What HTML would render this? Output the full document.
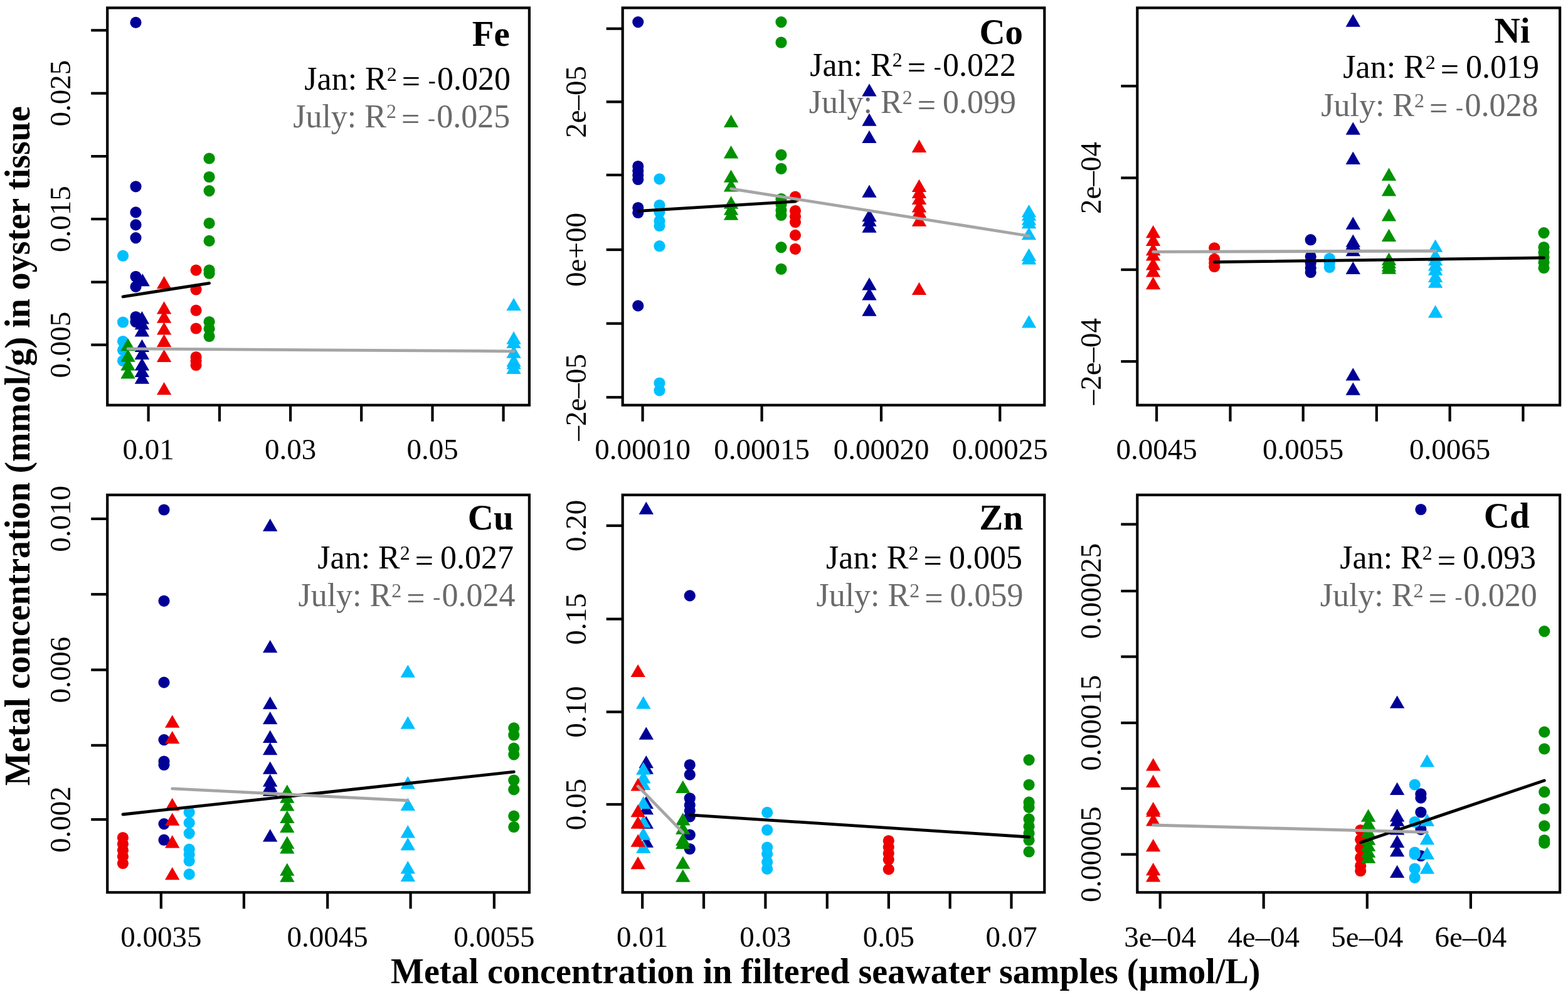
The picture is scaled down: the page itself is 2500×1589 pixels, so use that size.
<!DOCTYPE html>
<html><head><meta charset="utf-8"><style>
html,body{margin:0;padding:0;background:#fff;}
svg{display:block;}
.t{font-family:"Liberation Serif",serif;font-size:47px;}
.el{font-family:"Liberation Serif",serif;font-size:57px;font-weight:bold;}
.r{font-family:"Liberation Serif",serif;font-size:52px;}
.ttl{font-family:"Liberation Serif",serif;font-size:56px;font-weight:bold;}
</style></head><body>
<svg width="2500" height="1589" viewBox="0 0 2500 1589">
<rect width="2500" height="1589" fill="#fff"/>
<text x="812.8" y="72.8" text-anchor="end" class="el">Fe</text>
<text x="814.1" y="142.9" text-anchor="end" class="r" fill="#000">Jan: R<tspan dy="-14.3" font-size="32">2</tspan><tspan dy="18.8" dx="8">=</tspan><tspan dx="3.7" font-size="36" dy="-7.2"> -</tspan><tspan dy="2.7" dx="2.3">0.020</tspan></text>
<text x="813.3" y="202.7" text-anchor="end" class="r" fill="#6A6A6A">July: R<tspan dy="-14.3" font-size="32">2</tspan><tspan dy="18.8" dx="8">=</tspan><tspan dx="3.7" font-size="36" dy="-7.2"> -</tspan><tspan dy="2.7" dx="2.3">0.025</tspan></text>
<circle cx="216.5" cy="35.9" r="9.1" fill="#000096"/>
<circle cx="216.5" cy="297.3" r="9.1" fill="#000096"/>
<circle cx="216.5" cy="338.4" r="9.1" fill="#000096"/>
<circle cx="216.5" cy="358.4" r="9.1" fill="#000096"/>
<circle cx="216.5" cy="379.1" r="9.1" fill="#000096"/>
<circle cx="216.5" cy="440.8" r="9.1" fill="#000096"/>
<circle cx="216.5" cy="456.9" r="9.1" fill="#000096"/>
<circle cx="216.5" cy="505.0" r="9.1" fill="#000096"/>
<circle cx="216.5" cy="513.0" r="9.1" fill="#000096"/>
<circle cx="196.0" cy="407.7" r="9.1" fill="#00BFFF"/>
<circle cx="196.0" cy="513.5" r="9.1" fill="#00BFFF"/>
<circle cx="196.0" cy="544.0" r="9.1" fill="#00BFFF"/>
<circle cx="196.0" cy="558.0" r="9.1" fill="#00BFFF"/>
<circle cx="196.0" cy="575.0" r="9.1" fill="#00BFFF"/>
<circle cx="312.6" cy="430.6" r="9.1" fill="#EE0000"/>
<circle cx="312.6" cy="461.5" r="9.1" fill="#EE0000"/>
<circle cx="312.6" cy="494.7" r="9.1" fill="#EE0000"/>
<circle cx="312.6" cy="523.5" r="9.1" fill="#EE0000"/>
<circle cx="312.6" cy="569.0" r="9.1" fill="#EE0000"/>
<circle cx="312.6" cy="575.0" r="9.1" fill="#EE0000"/>
<circle cx="312.6" cy="582.0" r="9.1" fill="#EE0000"/>
<circle cx="333.6" cy="252.5" r="9.1" fill="#009100"/>
<circle cx="333.6" cy="282.0" r="9.1" fill="#009100"/>
<circle cx="333.6" cy="304.1" r="9.1" fill="#009100"/>
<circle cx="333.6" cy="355.9" r="9.1" fill="#009100"/>
<circle cx="333.6" cy="383.9" r="9.1" fill="#009100"/>
<circle cx="333.6" cy="430.6" r="9.1" fill="#009100"/>
<circle cx="333.6" cy="435.7" r="9.1" fill="#009100"/>
<circle cx="333.6" cy="513.0" r="9.1" fill="#009100"/>
<circle cx="333.6" cy="524.0" r="9.1" fill="#009100"/>
<circle cx="333.6" cy="536.0" r="9.1" fill="#009100"/>
<path d="M227.2 435.9L238.9 456.2L215.5 456.2Z" fill="#000096"/>
<path d="M226.4 496.1L238.1 516.4L214.7 516.4Z" fill="#000096"/>
<path d="M226.4 504.9L238.1 525.2L214.7 525.2Z" fill="#000096"/>
<path d="M226.4 516.1L238.1 536.4L214.7 536.4Z" fill="#000096"/>
<path d="M226.4 540.8L238.1 561.1L214.7 561.1Z" fill="#000096"/>
<path d="M226.4 552.6L238.1 572.9L214.7 572.9Z" fill="#000096"/>
<path d="M226.4 570.2L238.1 590.5L214.7 590.5Z" fill="#000096"/>
<path d="M226.4 580.8L238.1 601.1L214.7 601.1Z" fill="#000096"/>
<path d="M226.4 591.4L238.1 611.7L214.7 611.7Z" fill="#000096"/>
<path d="M819.1 474.7L830.8 495.0L807.4 495.0Z" fill="#00BFFF"/>
<path d="M819.1 528.1L830.8 548.4L807.4 548.4Z" fill="#00BFFF"/>
<path d="M819.1 534.8L830.8 555.1L807.4 555.1Z" fill="#00BFFF"/>
<path d="M819.1 550.5L830.8 570.8L807.4 570.8Z" fill="#00BFFF"/>
<path d="M819.1 564.1L830.8 584.4L807.4 584.4Z" fill="#00BFFF"/>
<path d="M819.1 568.2L830.8 588.5L807.4 588.5Z" fill="#00BFFF"/>
<path d="M819.1 575.6L830.8 595.9L807.4 595.9Z" fill="#00BFFF"/>
<path d="M261.6 440.0L273.3 460.3L249.9 460.3Z" fill="#EE0000"/>
<path d="M261.6 480.3L273.3 500.6L249.9 500.6Z" fill="#EE0000"/>
<path d="M261.6 494.4L273.3 514.7L249.9 514.7Z" fill="#EE0000"/>
<path d="M261.6 513.2L273.3 533.5L249.9 533.5Z" fill="#EE0000"/>
<path d="M261.6 532.6L273.3 552.9L249.9 552.9Z" fill="#EE0000"/>
<path d="M261.6 556.7L273.3 577.0L249.9 577.0Z" fill="#EE0000"/>
<path d="M261.6 609.0L273.3 629.3L249.9 629.3Z" fill="#EE0000"/>
<path d="M204.0 539.0L215.7 559.3L192.3 559.3Z" fill="#009100"/>
<path d="M204.0 556.5L215.7 576.8L192.3 576.8Z" fill="#009100"/>
<path d="M204.0 570.2L215.7 590.5L192.3 590.5Z" fill="#009100"/>
<path d="M204.0 583.1L215.7 603.4L192.3 603.4Z" fill="#009100"/>
<line x1="196.0" y1="472.9" x2="333.6" y2="451.3" stroke="#000" stroke-width="4.8" stroke-linecap="round"/>
<line x1="204.0" y1="555.8" x2="819.1" y2="559.8" stroke="#A5A5A5" stroke-width="4.8" stroke-linecap="round"/>
<rect x="171.2" y="12.5" width="672.7" height="633.2" fill="none" stroke="#000" stroke-width="4.2"/>
<line x1="236.6" y1="645.7" x2="236.6" y2="671.7" stroke="#000" stroke-width="4.2"/>
<line x1="350.0" y1="645.7" x2="350.0" y2="671.7" stroke="#000" stroke-width="4.2"/>
<line x1="463.1" y1="645.7" x2="463.1" y2="671.7" stroke="#000" stroke-width="4.2"/>
<line x1="576.2" y1="645.7" x2="576.2" y2="671.7" stroke="#000" stroke-width="4.2"/>
<line x1="689.5" y1="645.7" x2="689.5" y2="671.7" stroke="#000" stroke-width="4.2"/>
<line x1="802.6" y1="645.7" x2="802.6" y2="671.7" stroke="#000" stroke-width="4.2"/>
<text x="236.6" y="732.1" text-anchor="middle" class="t">0.01</text>
<text x="463.1" y="732.1" text-anchor="middle" class="t">0.03</text>
<text x="689.5" y="732.1" text-anchor="middle" class="t">0.05</text>
<line x1="145.2" y1="48.3" x2="171.2" y2="48.3" stroke="#000" stroke-width="4.2"/>
<line x1="145.2" y1="148.7" x2="171.2" y2="148.7" stroke="#000" stroke-width="4.2"/>
<line x1="145.2" y1="249.1" x2="171.2" y2="249.1" stroke="#000" stroke-width="4.2"/>
<line x1="145.2" y1="349.1" x2="171.2" y2="349.1" stroke="#000" stroke-width="4.2"/>
<line x1="145.2" y1="449.6" x2="171.2" y2="449.6" stroke="#000" stroke-width="4.2"/>
<line x1="145.2" y1="549.6" x2="171.2" y2="549.6" stroke="#000" stroke-width="4.2"/>
<text transform="translate(112.4,148.7) rotate(-90)" text-anchor="middle" class="t">0.025</text>
<text transform="translate(112.4,349.1) rotate(-90)" text-anchor="middle" class="t">0.015</text>
<text transform="translate(112.4,549.6) rotate(-90)" text-anchor="middle" class="t">0.005</text>
<text x="1631.1" y="69.8" text-anchor="end" class="el">Co</text>
<text x="1620.0" y="120.5" text-anchor="end" class="r" fill="#000">Jan: R<tspan dy="-14.3" font-size="32">2</tspan><tspan dy="18.8" dx="8">=</tspan><tspan dx="3.7" font-size="36" dy="-7.2"> -</tspan><tspan dy="2.7" dx="2.3">0.022</tspan></text>
<text x="1620.0" y="180.3" text-anchor="end" class="r" fill="#6A6A6A">July: R<tspan dy="-14.3" font-size="32">2</tspan><tspan dy="18.8" dx="8">=</tspan><tspan dx="-2" dy="-4.5"> 0.099</tspan></text>
<circle cx="1017.3" cy="35.1" r="9.1" fill="#000096"/>
<circle cx="1017.3" cy="265.0" r="9.1" fill="#000096"/>
<circle cx="1017.3" cy="272.0" r="9.1" fill="#000096"/>
<circle cx="1017.3" cy="279.0" r="9.1" fill="#000096"/>
<circle cx="1017.3" cy="286.0" r="9.1" fill="#000096"/>
<circle cx="1017.3" cy="331.0" r="9.1" fill="#000096"/>
<circle cx="1017.3" cy="339.0" r="9.1" fill="#000096"/>
<circle cx="1017.3" cy="487.4" r="9.1" fill="#000096"/>
<circle cx="1051.5" cy="285.3" r="9.1" fill="#00BFFF"/>
<circle cx="1051.5" cy="327.0" r="9.1" fill="#00BFFF"/>
<circle cx="1051.5" cy="338.0" r="9.1" fill="#00BFFF"/>
<circle cx="1051.5" cy="352.0" r="9.1" fill="#00BFFF"/>
<circle cx="1051.5" cy="360.0" r="9.1" fill="#00BFFF"/>
<circle cx="1051.5" cy="392.2" r="9.1" fill="#00BFFF"/>
<circle cx="1051.5" cy="610.5" r="9.1" fill="#00BFFF"/>
<circle cx="1051.5" cy="622.3" r="9.1" fill="#00BFFF"/>
<circle cx="1268.0" cy="313.6" r="9.1" fill="#EE0000"/>
<circle cx="1268.0" cy="336.0" r="9.1" fill="#EE0000"/>
<circle cx="1268.0" cy="345.0" r="9.1" fill="#EE0000"/>
<circle cx="1268.0" cy="354.0" r="9.1" fill="#EE0000"/>
<circle cx="1268.0" cy="374.9" r="9.1" fill="#EE0000"/>
<circle cx="1268.0" cy="396.8" r="9.1" fill="#EE0000"/>
<circle cx="1245.5" cy="35.1" r="9.1" fill="#009100"/>
<circle cx="1245.5" cy="67.7" r="9.1" fill="#009100"/>
<circle cx="1245.5" cy="246.9" r="9.1" fill="#009100"/>
<circle cx="1245.5" cy="268.8" r="9.1" fill="#009100"/>
<circle cx="1245.5" cy="317.0" r="9.1" fill="#009100"/>
<circle cx="1245.5" cy="326.0" r="9.1" fill="#009100"/>
<circle cx="1245.5" cy="335.0" r="9.1" fill="#009100"/>
<circle cx="1245.5" cy="343.0" r="9.1" fill="#009100"/>
<circle cx="1245.5" cy="394.1" r="9.1" fill="#009100"/>
<circle cx="1245.5" cy="428.8" r="9.1" fill="#009100"/>
<path d="M1386.0 133.2L1397.7 153.5L1374.3 153.5Z" fill="#000096"/>
<path d="M1386.0 180.4L1397.7 200.7L1374.3 200.7Z" fill="#000096"/>
<path d="M1386.0 207.7L1397.7 228.0L1374.3 228.0Z" fill="#000096"/>
<path d="M1386.0 294.5L1397.7 314.8L1374.3 314.8Z" fill="#000096"/>
<path d="M1386.0 333.0L1397.7 353.3L1374.3 353.3Z" fill="#000096"/>
<path d="M1386.0 340.5L1397.7 360.8L1374.3 360.8Z" fill="#000096"/>
<path d="M1386.0 350.5L1397.7 370.8L1374.3 370.8Z" fill="#000096"/>
<path d="M1386.0 442.2L1397.7 462.5L1374.3 462.5Z" fill="#000096"/>
<path d="M1386.0 458.3L1397.7 478.6L1374.3 478.6Z" fill="#000096"/>
<path d="M1386.0 483.5L1397.7 503.8L1374.3 503.8Z" fill="#000096"/>
<path d="M1640.5 325.9L1652.2 346.2L1628.8 346.2Z" fill="#00BFFF"/>
<path d="M1640.5 331.4L1652.2 351.7L1628.8 351.7Z" fill="#00BFFF"/>
<path d="M1640.5 338.5L1652.2 358.8L1628.8 358.8Z" fill="#00BFFF"/>
<path d="M1640.5 344.0L1652.2 364.3L1628.8 364.3Z" fill="#00BFFF"/>
<path d="M1640.5 362.0L1652.2 382.3L1628.8 382.3Z" fill="#00BFFF"/>
<path d="M1640.5 395.7L1652.2 416.0L1628.8 416.0Z" fill="#00BFFF"/>
<path d="M1640.5 401.2L1652.2 421.5L1628.8 421.5Z" fill="#00BFFF"/>
<path d="M1640.5 502.3L1652.2 522.6L1628.8 522.6Z" fill="#00BFFF"/>
<path d="M1465.5 222.6L1477.2 242.9L1453.8 242.9Z" fill="#EE0000"/>
<path d="M1465.5 285.8L1477.2 306.1L1453.8 306.1Z" fill="#EE0000"/>
<path d="M1465.5 295.8L1477.2 316.1L1453.8 316.1Z" fill="#EE0000"/>
<path d="M1465.5 305.7L1477.2 326.0L1453.8 326.0Z" fill="#EE0000"/>
<path d="M1465.5 318.1L1477.2 338.4L1453.8 338.4Z" fill="#EE0000"/>
<path d="M1465.5 326.8L1477.2 347.1L1453.8 347.1Z" fill="#EE0000"/>
<path d="M1465.5 340.5L1477.2 360.8L1453.8 360.8Z" fill="#EE0000"/>
<path d="M1465.5 449.7L1477.2 470.0L1453.8 470.0Z" fill="#EE0000"/>
<path d="M1165.6 182.7L1177.3 203.0L1153.9 203.0Z" fill="#009100"/>
<path d="M1165.6 232.1L1177.3 252.4L1153.9 252.4Z" fill="#009100"/>
<path d="M1165.6 270.5L1177.3 290.8L1153.9 290.8Z" fill="#009100"/>
<path d="M1165.6 285.1L1177.3 305.4L1153.9 305.4Z" fill="#009100"/>
<path d="M1165.6 312.5L1177.3 332.8L1153.9 332.8Z" fill="#009100"/>
<path d="M1165.6 322.5L1177.3 342.8L1153.9 342.8Z" fill="#009100"/>
<path d="M1165.6 330.5L1177.3 350.8L1153.9 350.8Z" fill="#009100"/>
<line x1="1017.3" y1="336.4" x2="1268.0" y2="321.2" stroke="#000" stroke-width="4.8" stroke-linecap="round"/>
<line x1="1165.6" y1="300.8" x2="1640.5" y2="376.0" stroke="#A5A5A5" stroke-width="4.8" stroke-linecap="round"/>
<rect x="992.7" y="12.5" width="672.6" height="633.2" fill="none" stroke="#000" stroke-width="4.2"/>
<line x1="1024.6" y1="645.7" x2="1024.6" y2="671.7" stroke="#000" stroke-width="4.2"/>
<line x1="1214.6" y1="645.7" x2="1214.6" y2="671.7" stroke="#000" stroke-width="4.2"/>
<line x1="1405.0" y1="645.7" x2="1405.0" y2="671.7" stroke="#000" stroke-width="4.2"/>
<line x1="1594.3" y1="645.7" x2="1594.3" y2="671.7" stroke="#000" stroke-width="4.2"/>
<text x="1024.6" y="732.1" text-anchor="middle" class="t">0.00010</text>
<text x="1214.6" y="732.1" text-anchor="middle" class="t">0.00015</text>
<text x="1405.0" y="732.1" text-anchor="middle" class="t">0.00020</text>
<text x="1594.3" y="732.1" text-anchor="middle" class="t">0.00025</text>
<line x1="966.7" y1="45.7" x2="992.7" y2="45.7" stroke="#000" stroke-width="4.2"/>
<line x1="966.7" y1="162.3" x2="992.7" y2="162.3" stroke="#000" stroke-width="4.2"/>
<line x1="966.7" y1="278.9" x2="992.7" y2="278.9" stroke="#000" stroke-width="4.2"/>
<line x1="966.7" y1="398.0" x2="992.7" y2="398.0" stroke="#000" stroke-width="4.2"/>
<line x1="966.7" y1="515.6" x2="992.7" y2="515.6" stroke="#000" stroke-width="4.2"/>
<line x1="966.7" y1="633.2" x2="992.7" y2="633.2" stroke="#000" stroke-width="4.2"/>
<text transform="translate(933.9,162.3) rotate(-90)" text-anchor="middle" class="t">2e–05</text>
<text transform="translate(933.9,398.0) rotate(-90)" text-anchor="middle" class="t">0e+00</text>
<text transform="translate(933.9,633.2) rotate(-90)" text-anchor="middle" class="t">–2e–05</text>
<text x="2439.5" y="68.2" text-anchor="end" class="el">Ni</text>
<text x="2454.1" y="123.8" text-anchor="end" class="r" fill="#000">Jan: R<tspan dy="-14.3" font-size="32">2</tspan><tspan dy="18.8" dx="8">=</tspan><tspan dx="-2" dy="-4.5"> 0.019</tspan></text>
<text x="2452.4" y="185.3" text-anchor="end" class="r" fill="#6A6A6A">July: R<tspan dy="-14.3" font-size="32">2</tspan><tspan dy="18.8" dx="8">=</tspan><tspan dx="3.7" font-size="36" dy="-7.2"> -</tspan><tspan dy="2.7" dx="2.3">0.028</tspan></text>
<circle cx="2089.7" cy="382.2" r="9.1" fill="#000096"/>
<circle cx="2089.7" cy="409.0" r="9.1" fill="#000096"/>
<circle cx="2089.7" cy="419.0" r="9.1" fill="#000096"/>
<circle cx="2089.7" cy="427.0" r="9.1" fill="#000096"/>
<circle cx="2089.7" cy="434.0" r="9.1" fill="#000096"/>
<circle cx="2119.8" cy="412.0" r="9.1" fill="#00BFFF"/>
<circle cx="2119.8" cy="419.0" r="9.1" fill="#00BFFF"/>
<circle cx="2119.8" cy="426.0" r="9.1" fill="#00BFFF"/>
<circle cx="1936.2" cy="395.3" r="9.1" fill="#EE0000"/>
<circle cx="1936.2" cy="413.0" r="9.1" fill="#EE0000"/>
<circle cx="1936.2" cy="419.0" r="9.1" fill="#EE0000"/>
<circle cx="1936.2" cy="425.0" r="9.1" fill="#EE0000"/>
<circle cx="2461.5" cy="371.1" r="9.1" fill="#009100"/>
<circle cx="2461.5" cy="394.0" r="9.1" fill="#009100"/>
<circle cx="2461.5" cy="402.0" r="9.1" fill="#009100"/>
<circle cx="2461.5" cy="410.0" r="9.1" fill="#009100"/>
<circle cx="2461.5" cy="418.0" r="9.1" fill="#009100"/>
<circle cx="2461.5" cy="427.0" r="9.1" fill="#009100"/>
<path d="M2157.3 22.5L2169.0 42.8L2145.6 42.8Z" fill="#000096"/>
<path d="M2157.3 194.5L2169.0 214.8L2145.6 214.8Z" fill="#000096"/>
<path d="M2157.3 241.6L2169.0 261.9L2145.6 261.9Z" fill="#000096"/>
<path d="M2157.3 345.5L2169.0 365.8L2145.6 365.8Z" fill="#000096"/>
<path d="M2157.3 373.5L2169.0 393.8L2145.6 393.8Z" fill="#000096"/>
<path d="M2157.3 377.5L2169.0 397.8L2145.6 397.8Z" fill="#000096"/>
<path d="M2157.3 387.9L2169.0 408.2L2145.6 408.2Z" fill="#000096"/>
<path d="M2157.3 416.8L2169.0 437.1L2145.6 437.1Z" fill="#000096"/>
<path d="M2157.3 586.3L2169.0 606.6L2145.6 606.6Z" fill="#000096"/>
<path d="M2157.3 609.5L2169.0 629.8L2145.6 629.8Z" fill="#000096"/>
<path d="M2288.6 381.5L2300.3 401.8L2276.9 401.8Z" fill="#00BFFF"/>
<path d="M2288.6 396.3L2300.3 416.6L2276.9 416.6Z" fill="#00BFFF"/>
<path d="M2288.6 403.0L2300.3 423.3L2276.9 423.3Z" fill="#00BFFF"/>
<path d="M2288.6 411.3L2300.3 431.6L2276.9 431.6Z" fill="#00BFFF"/>
<path d="M2288.6 418.5L2300.3 438.8L2276.9 438.8Z" fill="#00BFFF"/>
<path d="M2288.6 429.6L2300.3 449.9L2276.9 449.9Z" fill="#00BFFF"/>
<path d="M2288.6 438.5L2300.3 458.8L2276.9 458.8Z" fill="#00BFFF"/>
<path d="M2288.6 486.2L2300.3 506.5L2276.9 506.5Z" fill="#00BFFF"/>
<path d="M1838.6 358.9L1850.3 379.2L1826.9 379.2Z" fill="#EE0000"/>
<path d="M1838.6 371.8L1850.3 392.1L1826.9 392.1Z" fill="#EE0000"/>
<path d="M1838.6 386.9L1850.3 407.2L1826.9 407.2Z" fill="#EE0000"/>
<path d="M1838.6 395.1L1850.3 415.4L1826.9 415.4Z" fill="#EE0000"/>
<path d="M1838.6 410.2L1850.3 430.5L1826.9 430.5Z" fill="#EE0000"/>
<path d="M1838.6 421.2L1850.3 441.5L1826.9 441.5Z" fill="#EE0000"/>
<path d="M1838.6 440.9L1850.3 461.2L1826.9 461.2Z" fill="#EE0000"/>
<path d="M2214.5 267.6L2226.2 287.9L2202.8 287.9Z" fill="#009100"/>
<path d="M2214.5 292.1L2226.2 312.4L2202.8 312.4Z" fill="#009100"/>
<path d="M2214.5 332.3L2226.2 352.6L2202.8 352.6Z" fill="#009100"/>
<path d="M2214.5 364.7L2226.2 385.0L2202.8 385.0Z" fill="#009100"/>
<path d="M2214.5 402.5L2226.2 422.8L2202.8 422.8Z" fill="#009100"/>
<path d="M2214.5 407.5L2226.2 427.8L2202.8 427.8Z" fill="#009100"/>
<path d="M2214.5 412.5L2226.2 432.8L2202.8 432.8Z" fill="#009100"/>
<path d="M2214.5 416.5L2226.2 436.8L2202.8 436.8Z" fill="#009100"/>
<line x1="1936.2" y1="417.7" x2="2461.5" y2="410.8" stroke="#000" stroke-width="4.8" stroke-linecap="round"/>
<line x1="1838.6" y1="401.3" x2="2288.6" y2="400.0" stroke="#A5A5A5" stroke-width="4.8" stroke-linecap="round"/>
<rect x="1813.3" y="12.5" width="673.8" height="633.2" fill="none" stroke="#000" stroke-width="4.2"/>
<line x1="1844.1" y1="645.7" x2="1844.1" y2="671.7" stroke="#000" stroke-width="4.2"/>
<line x1="1961.5" y1="645.7" x2="1961.5" y2="671.7" stroke="#000" stroke-width="4.2"/>
<line x1="2077.7" y1="645.7" x2="2077.7" y2="671.7" stroke="#000" stroke-width="4.2"/>
<line x1="2194.8" y1="645.7" x2="2194.8" y2="671.7" stroke="#000" stroke-width="4.2"/>
<line x1="2311.6" y1="645.7" x2="2311.6" y2="671.7" stroke="#000" stroke-width="4.2"/>
<line x1="2428.4" y1="645.7" x2="2428.4" y2="671.7" stroke="#000" stroke-width="4.2"/>
<text x="1844.1" y="732.1" text-anchor="middle" class="t">0.0045</text>
<text x="2077.7" y="732.1" text-anchor="middle" class="t">0.0055</text>
<text x="2311.6" y="732.1" text-anchor="middle" class="t">0.0065</text>
<line x1="1787.3" y1="137.2" x2="1813.3" y2="137.2" stroke="#000" stroke-width="4.2"/>
<line x1="1787.3" y1="283.5" x2="1813.3" y2="283.5" stroke="#000" stroke-width="4.2"/>
<line x1="1787.3" y1="429.8" x2="1813.3" y2="429.8" stroke="#000" stroke-width="4.2"/>
<line x1="1787.3" y1="576.1" x2="1813.3" y2="576.1" stroke="#000" stroke-width="4.2"/>
<text transform="translate(1754.5,283.5) rotate(-90)" text-anchor="middle" class="t">2e–04</text>
<text transform="translate(1754.5,576.1) rotate(-90)" text-anchor="middle" class="t">–2e–04</text>
<text x="818.6" y="844.0" text-anchor="end" class="el">Cu</text>
<text x="819.1" y="906.3" text-anchor="end" class="r" fill="#000">Jan: R<tspan dy="-14.3" font-size="32">2</tspan><tspan dy="18.8" dx="8">=</tspan><tspan dx="-2" dy="-4.5"> 0.027</tspan></text>
<text x="821.6" y="966.1" text-anchor="end" class="r" fill="#6A6A6A">July: R<tspan dy="-14.3" font-size="32">2</tspan><tspan dy="18.8" dx="8">=</tspan><tspan dx="3.7" font-size="36" dy="-7.2"> -</tspan><tspan dy="2.7" dx="2.3">0.024</tspan></text>
<circle cx="261.5" cy="812.5" r="9.1" fill="#000096"/>
<circle cx="261.5" cy="957.8" r="9.1" fill="#000096"/>
<circle cx="261.5" cy="1087.6" r="9.1" fill="#000096"/>
<circle cx="261.5" cy="1179.1" r="9.1" fill="#000096"/>
<circle cx="261.5" cy="1213.5" r="9.1" fill="#000096"/>
<circle cx="261.5" cy="1219.0" r="9.1" fill="#000096"/>
<circle cx="261.5" cy="1313.1" r="9.1" fill="#000096"/>
<circle cx="261.5" cy="1338.7" r="9.1" fill="#000096"/>
<circle cx="301.7" cy="1294.6" r="9.1" fill="#00BFFF"/>
<circle cx="301.7" cy="1311.4" r="9.1" fill="#00BFFF"/>
<circle cx="301.7" cy="1328.1" r="9.1" fill="#00BFFF"/>
<circle cx="301.7" cy="1353.6" r="9.1" fill="#00BFFF"/>
<circle cx="301.7" cy="1362.0" r="9.1" fill="#00BFFF"/>
<circle cx="301.7" cy="1372.0" r="9.1" fill="#00BFFF"/>
<circle cx="301.7" cy="1393.4" r="9.1" fill="#00BFFF"/>
<circle cx="195.9" cy="1335.0" r="9.1" fill="#EE0000"/>
<circle cx="195.9" cy="1345.0" r="9.1" fill="#EE0000"/>
<circle cx="195.9" cy="1355.0" r="9.1" fill="#EE0000"/>
<circle cx="195.9" cy="1365.0" r="9.1" fill="#EE0000"/>
<circle cx="195.9" cy="1376.0" r="9.1" fill="#EE0000"/>
<circle cx="819.3" cy="1160.4" r="9.1" fill="#009100"/>
<circle cx="819.3" cy="1171.5" r="9.1" fill="#009100"/>
<circle cx="819.3" cy="1192.7" r="9.1" fill="#009100"/>
<circle cx="819.3" cy="1202.6" r="9.1" fill="#009100"/>
<circle cx="819.3" cy="1243.5" r="9.1" fill="#009100"/>
<circle cx="819.3" cy="1258.4" r="9.1" fill="#009100"/>
<circle cx="819.3" cy="1300.6" r="9.1" fill="#009100"/>
<circle cx="819.3" cy="1318.0" r="9.1" fill="#009100"/>
<path d="M430.7 826.4L442.4 846.7L419.0 846.7Z" fill="#000096"/>
<path d="M430.7 1019.9L442.4 1040.2L419.0 1040.2Z" fill="#000096"/>
<path d="M430.7 1110.0L442.4 1130.3L419.0 1130.3Z" fill="#000096"/>
<path d="M430.7 1134.0L442.4 1154.3L419.0 1154.3Z" fill="#000096"/>
<path d="M430.7 1163.7L442.4 1184.0L419.0 1184.0Z" fill="#000096"/>
<path d="M430.7 1182.9L442.4 1203.2L419.0 1203.2Z" fill="#000096"/>
<path d="M430.7 1213.5L442.4 1233.8L419.0 1233.8Z" fill="#000096"/>
<path d="M430.7 1233.5L442.4 1253.8L419.0 1253.8Z" fill="#000096"/>
<path d="M430.7 1242.2L442.4 1262.5L419.0 1262.5Z" fill="#000096"/>
<path d="M430.7 1248.5L442.4 1268.8L419.0 1268.8Z" fill="#000096"/>
<path d="M430.7 1321.2L442.4 1341.5L419.0 1341.5Z" fill="#000096"/>
<path d="M650.3 1059.5L662.0 1079.8L638.6 1079.8Z" fill="#00BFFF"/>
<path d="M650.3 1141.4L662.0 1161.7L638.6 1161.7Z" fill="#00BFFF"/>
<path d="M650.3 1237.1L662.0 1257.4L638.6 1257.4Z" fill="#00BFFF"/>
<path d="M650.3 1271.8L662.0 1292.1L638.6 1292.1Z" fill="#00BFFF"/>
<path d="M650.3 1315.1L662.0 1335.4L638.6 1335.4Z" fill="#00BFFF"/>
<path d="M650.3 1334.9L662.0 1355.2L638.6 1355.2Z" fill="#00BFFF"/>
<path d="M650.3 1372.1L662.0 1392.4L638.6 1392.4Z" fill="#00BFFF"/>
<path d="M650.3 1384.6L662.0 1404.9L638.6 1404.9Z" fill="#00BFFF"/>
<path d="M274.7 1139.4L286.4 1159.7L263.0 1159.7Z" fill="#EE0000"/>
<path d="M274.7 1165.0L286.4 1185.3L263.0 1185.3Z" fill="#EE0000"/>
<path d="M274.7 1271.7L286.4 1292.0L263.0 1292.0Z" fill="#EE0000"/>
<path d="M274.7 1295.5L286.4 1315.8L263.0 1315.8Z" fill="#EE0000"/>
<path d="M274.7 1331.1L286.4 1351.4L263.0 1351.4Z" fill="#EE0000"/>
<path d="M274.7 1381.9L286.4 1402.2L263.0 1402.2Z" fill="#EE0000"/>
<path d="M457.8 1250.5L469.5 1270.8L446.1 1270.8Z" fill="#009100"/>
<path d="M457.8 1259.5L469.5 1279.8L446.1 1279.8Z" fill="#009100"/>
<path d="M457.8 1272.3L469.5 1292.6L446.1 1292.6Z" fill="#009100"/>
<path d="M457.8 1291.7L469.5 1312.0L446.1 1312.0Z" fill="#009100"/>
<path d="M457.8 1306.8L469.5 1327.1L446.1 1327.1Z" fill="#009100"/>
<path d="M457.8 1332.5L469.5 1352.8L446.1 1352.8Z" fill="#009100"/>
<path d="M457.8 1340.2L469.5 1360.5L446.1 1360.5Z" fill="#009100"/>
<path d="M457.8 1375.5L469.5 1395.8L446.1 1395.8Z" fill="#009100"/>
<path d="M457.8 1385.5L469.5 1405.8L446.1 1405.8Z" fill="#009100"/>
<line x1="195.9" y1="1298.0" x2="819.3" y2="1230.1" stroke="#000" stroke-width="4.8" stroke-linecap="round"/>
<line x1="274.7" y1="1256.8" x2="650.3" y2="1275.8" stroke="#A5A5A5" stroke-width="4.8" stroke-linecap="round"/>
<rect x="171.2" y="788.8" width="672.7" height="633.5" fill="none" stroke="#000" stroke-width="4.2"/>
<line x1="256.8" y1="1422.3" x2="256.8" y2="1448.3" stroke="#000" stroke-width="4.2"/>
<line x1="388.9" y1="1422.3" x2="388.9" y2="1448.3" stroke="#000" stroke-width="4.2"/>
<line x1="522.2" y1="1422.3" x2="522.2" y2="1448.3" stroke="#000" stroke-width="4.2"/>
<line x1="654.6" y1="1422.3" x2="654.6" y2="1448.3" stroke="#000" stroke-width="4.2"/>
<line x1="787.9" y1="1422.3" x2="787.9" y2="1448.3" stroke="#000" stroke-width="4.2"/>
<text x="256.8" y="1508.7" text-anchor="middle" class="t">0.0035</text>
<text x="522.2" y="1508.7" text-anchor="middle" class="t">0.0045</text>
<text x="787.9" y="1508.7" text-anchor="middle" class="t">0.0055</text>
<line x1="145.2" y1="826.9" x2="171.2" y2="826.9" stroke="#000" stroke-width="4.2"/>
<line x1="145.2" y1="947.2" x2="171.2" y2="947.2" stroke="#000" stroke-width="4.2"/>
<line x1="145.2" y1="1067.6" x2="171.2" y2="1067.6" stroke="#000" stroke-width="4.2"/>
<line x1="145.2" y1="1187.9" x2="171.2" y2="1187.9" stroke="#000" stroke-width="4.2"/>
<line x1="145.2" y1="1306.1" x2="171.2" y2="1306.1" stroke="#000" stroke-width="4.2"/>
<text transform="translate(112.4,826.9) rotate(-90)" text-anchor="middle" class="t">0.010</text>
<text transform="translate(112.4,1067.6) rotate(-90)" text-anchor="middle" class="t">0.006</text>
<text transform="translate(112.4,1306.1) rotate(-90)" text-anchor="middle" class="t">0.002</text>
<text x="1631.1" y="844.0" text-anchor="end" class="el">Zn</text>
<text x="1629.9" y="906.3" text-anchor="end" class="r" fill="#000">Jan: R<tspan dy="-14.3" font-size="32">2</tspan><tspan dy="18.8" dx="8">=</tspan><tspan dx="-2" dy="-4.5"> 0.005</tspan></text>
<text x="1631.6" y="966.1" text-anchor="end" class="r" fill="#6A6A6A">July: R<tspan dy="-14.3" font-size="32">2</tspan><tspan dy="18.8" dx="8">=</tspan><tspan dx="-2" dy="-4.5"> 0.059</tspan></text>
<circle cx="1099.8" cy="949.4" r="9.1" fill="#000096"/>
<circle cx="1099.8" cy="1219.0" r="9.1" fill="#000096"/>
<circle cx="1099.8" cy="1234.6" r="9.1" fill="#000096"/>
<circle cx="1099.8" cy="1272.3" r="9.1" fill="#000096"/>
<circle cx="1099.8" cy="1283.0" r="9.1" fill="#000096"/>
<circle cx="1099.8" cy="1292.0" r="9.1" fill="#000096"/>
<circle cx="1099.8" cy="1301.5" r="9.1" fill="#000096"/>
<circle cx="1099.8" cy="1330.5" r="9.1" fill="#000096"/>
<circle cx="1099.8" cy="1353.0" r="9.1" fill="#000096"/>
<circle cx="1223.2" cy="1294.9" r="9.1" fill="#00BFFF"/>
<circle cx="1223.2" cy="1322.8" r="9.1" fill="#00BFFF"/>
<circle cx="1223.2" cy="1350.5" r="9.1" fill="#00BFFF"/>
<circle cx="1223.2" cy="1361.0" r="9.1" fill="#00BFFF"/>
<circle cx="1223.2" cy="1374.0" r="9.1" fill="#00BFFF"/>
<circle cx="1223.2" cy="1384.9" r="9.1" fill="#00BFFF"/>
<circle cx="1416.8" cy="1340.0" r="9.1" fill="#EE0000"/>
<circle cx="1416.8" cy="1350.0" r="9.1" fill="#EE0000"/>
<circle cx="1416.8" cy="1360.0" r="9.1" fill="#EE0000"/>
<circle cx="1416.8" cy="1370.0" r="9.1" fill="#EE0000"/>
<circle cx="1416.8" cy="1385.4" r="9.1" fill="#EE0000"/>
<circle cx="1640.6" cy="1211.1" r="9.1" fill="#009100"/>
<circle cx="1640.6" cy="1250.8" r="9.1" fill="#009100"/>
<circle cx="1640.6" cy="1278.7" r="9.1" fill="#009100"/>
<circle cx="1640.6" cy="1286.8" r="9.1" fill="#009100"/>
<circle cx="1640.6" cy="1305.4" r="9.1" fill="#009100"/>
<circle cx="1640.6" cy="1317.0" r="9.1" fill="#009100"/>
<circle cx="1640.6" cy="1328.0" r="9.1" fill="#009100"/>
<circle cx="1640.6" cy="1339.0" r="9.1" fill="#009100"/>
<circle cx="1640.6" cy="1357.5" r="9.1" fill="#009100"/>
<path d="M1030.3 799.5L1042.0 819.8L1018.6 819.8Z" fill="#000096"/>
<path d="M1030.3 1158.5L1042.0 1178.8L1018.6 1178.8Z" fill="#000096"/>
<path d="M1030.3 1204.0L1042.0 1224.3L1018.6 1224.3Z" fill="#000096"/>
<path d="M1030.3 1213.5L1042.0 1233.8L1018.6 1233.8Z" fill="#000096"/>
<path d="M1030.3 1268.8L1042.0 1289.1L1018.6 1289.1Z" fill="#000096"/>
<path d="M1030.3 1277.9L1042.0 1298.2L1018.6 1298.2Z" fill="#000096"/>
<path d="M1030.3 1300.5L1042.0 1320.8L1018.6 1320.8Z" fill="#000096"/>
<path d="M1030.3 1330.5L1042.0 1350.8L1018.6 1350.8Z" fill="#000096"/>
<path d="M1025.8 1109.5L1037.5 1129.8L1014.1 1129.8Z" fill="#00BFFF"/>
<path d="M1025.8 1214.5L1037.5 1234.8L1014.1 1234.8Z" fill="#00BFFF"/>
<path d="M1025.8 1228.3L1037.5 1248.6L1014.1 1248.6Z" fill="#00BFFF"/>
<path d="M1025.8 1238.8L1037.5 1259.1L1014.1 1259.1Z" fill="#00BFFF"/>
<path d="M1025.8 1269.0L1037.5 1289.3L1014.1 1289.3Z" fill="#00BFFF"/>
<path d="M1025.8 1298.9L1037.5 1319.2L1014.1 1319.2Z" fill="#00BFFF"/>
<path d="M1025.8 1318.5L1037.5 1338.8L1014.1 1338.8Z" fill="#00BFFF"/>
<path d="M1025.8 1339.5L1037.5 1359.8L1014.1 1359.8Z" fill="#00BFFF"/>
<path d="M1017.2 1058.7L1028.9 1079.0L1005.5 1079.0Z" fill="#EE0000"/>
<path d="M1017.2 1240.1L1028.9 1260.4L1005.5 1260.4Z" fill="#EE0000"/>
<path d="M1017.2 1282.0L1028.9 1302.3L1005.5 1302.3Z" fill="#EE0000"/>
<path d="M1017.2 1300.5L1028.9 1320.8L1005.5 1320.8Z" fill="#EE0000"/>
<path d="M1017.2 1329.5L1028.9 1349.8L1005.5 1349.8Z" fill="#EE0000"/>
<path d="M1017.2 1365.0L1028.9 1385.3L1005.5 1385.3Z" fill="#EE0000"/>
<path d="M1088.8 1243.8L1100.5 1264.1L1077.1 1264.1Z" fill="#009100"/>
<path d="M1088.8 1295.2L1100.5 1315.5L1077.1 1315.5Z" fill="#009100"/>
<path d="M1088.8 1309.4L1100.5 1329.7L1077.1 1329.7Z" fill="#009100"/>
<path d="M1088.8 1327.5L1100.5 1347.8L1077.1 1347.8Z" fill="#009100"/>
<path d="M1088.8 1332.7L1100.5 1353.0L1077.1 1353.0Z" fill="#009100"/>
<path d="M1088.8 1364.5L1100.5 1384.8L1077.1 1384.8Z" fill="#009100"/>
<path d="M1088.8 1385.5L1100.5 1405.8L1077.1 1405.8Z" fill="#009100"/>
<line x1="1099.8" y1="1298.9" x2="1640.6" y2="1334.0" stroke="#000" stroke-width="4.8" stroke-linecap="round"/>
<line x1="1017.2" y1="1253.1" x2="1088.8" y2="1326.8" stroke="#A5A5A5" stroke-width="4.8" stroke-linecap="round"/>
<rect x="992.7" y="788.8" width="672.6" height="633.5" fill="none" stroke="#000" stroke-width="4.2"/>
<line x1="1024.2" y1="1422.3" x2="1024.2" y2="1448.3" stroke="#000" stroke-width="4.2"/>
<line x1="1122.0" y1="1422.3" x2="1122.0" y2="1448.3" stroke="#000" stroke-width="4.2"/>
<line x1="1220.4" y1="1422.3" x2="1220.4" y2="1448.3" stroke="#000" stroke-width="4.2"/>
<line x1="1318.8" y1="1422.3" x2="1318.8" y2="1448.3" stroke="#000" stroke-width="4.2"/>
<line x1="1416.9" y1="1422.3" x2="1416.9" y2="1448.3" stroke="#000" stroke-width="4.2"/>
<line x1="1514.7" y1="1422.3" x2="1514.7" y2="1448.3" stroke="#000" stroke-width="4.2"/>
<line x1="1612.5" y1="1422.3" x2="1612.5" y2="1448.3" stroke="#000" stroke-width="4.2"/>
<text x="1024.2" y="1508.7" text-anchor="middle" class="t">0.01</text>
<text x="1220.4" y="1508.7" text-anchor="middle" class="t">0.03</text>
<text x="1416.9" y="1508.7" text-anchor="middle" class="t">0.05</text>
<text x="1612.5" y="1508.7" text-anchor="middle" class="t">0.07</text>
<line x1="966.7" y1="837.8" x2="992.7" y2="837.8" stroke="#000" stroke-width="4.2"/>
<line x1="966.7" y1="986.6" x2="992.7" y2="986.6" stroke="#000" stroke-width="4.2"/>
<line x1="966.7" y1="1134.6" x2="992.7" y2="1134.6" stroke="#000" stroke-width="4.2"/>
<line x1="966.7" y1="1282.0" x2="992.7" y2="1282.0" stroke="#000" stroke-width="4.2"/>
<text transform="translate(933.9,837.8) rotate(-90)" text-anchor="middle" class="t">0.20</text>
<text transform="translate(933.9,986.6) rotate(-90)" text-anchor="middle" class="t">0.15</text>
<text transform="translate(933.9,1134.6) rotate(-90)" text-anchor="middle" class="t">0.10</text>
<text transform="translate(933.9,1282.0) rotate(-90)" text-anchor="middle" class="t">0.05</text>
<text x="2438.7" y="840.7" text-anchor="end" class="el">Cd</text>
<text x="2449.1" y="906.3" text-anchor="end" class="r" fill="#000">Jan: R<tspan dy="-14.3" font-size="32">2</tspan><tspan dy="18.8" dx="8">=</tspan><tspan dx="-2" dy="-4.5"> 0.093</tspan></text>
<text x="2450.8" y="966.1" text-anchor="end" class="r" fill="#6A6A6A">July: R<tspan dy="-14.3" font-size="32">2</tspan><tspan dy="18.8" dx="8">=</tspan><tspan dx="3.7" font-size="36" dy="-7.2"> -</tspan><tspan dy="2.7" dx="2.3">0.020</tspan></text>
<circle cx="2265.4" cy="812.0" r="9.1" fill="#000096"/>
<circle cx="2265.4" cy="1265.4" r="9.1" fill="#000096"/>
<circle cx="2265.4" cy="1271.6" r="9.1" fill="#000096"/>
<circle cx="2265.4" cy="1294.5" r="9.1" fill="#000096"/>
<circle cx="2265.4" cy="1321.8" r="9.1" fill="#000096"/>
<circle cx="2265.4" cy="1364.0" r="9.1" fill="#000096"/>
<circle cx="2255.7" cy="1250.6" r="9.1" fill="#00BFFF"/>
<circle cx="2255.7" cy="1310.0" r="9.1" fill="#00BFFF"/>
<circle cx="2255.7" cy="1358.5" r="9.1" fill="#00BFFF"/>
<circle cx="2255.7" cy="1361.5" r="9.1" fill="#00BFFF"/>
<circle cx="2255.7" cy="1384.5" r="9.1" fill="#00BFFF"/>
<circle cx="2255.7" cy="1398.8" r="9.1" fill="#00BFFF"/>
<circle cx="2169.2" cy="1323.0" r="9.1" fill="#EE0000"/>
<circle cx="2169.2" cy="1338.0" r="9.1" fill="#EE0000"/>
<circle cx="2169.2" cy="1352.0" r="9.1" fill="#EE0000"/>
<circle cx="2169.2" cy="1367.0" r="9.1" fill="#EE0000"/>
<circle cx="2169.2" cy="1380.0" r="9.1" fill="#EE0000"/>
<circle cx="2169.2" cy="1388.0" r="9.1" fill="#EE0000"/>
<circle cx="2462.3" cy="1006.1" r="9.1" fill="#009100"/>
<circle cx="2462.3" cy="1166.6" r="9.1" fill="#009100"/>
<circle cx="2462.3" cy="1193.5" r="9.1" fill="#009100"/>
<circle cx="2462.3" cy="1262.2" r="9.1" fill="#009100"/>
<circle cx="2462.3" cy="1289.0" r="9.1" fill="#009100"/>
<circle cx="2462.3" cy="1316.3" r="9.1" fill="#009100"/>
<circle cx="2462.3" cy="1339.0" r="9.1" fill="#009100"/>
<circle cx="2462.3" cy="1343.6" r="9.1" fill="#009100"/>
<path d="M2227.6 1108.4L2239.3 1128.7L2215.9 1128.7Z" fill="#000096"/>
<path d="M2227.6 1246.8L2239.3 1267.1L2215.9 1267.1Z" fill="#000096"/>
<path d="M2227.6 1289.1L2239.3 1309.4L2215.9 1309.4Z" fill="#000096"/>
<path d="M2227.6 1296.5L2239.3 1316.8L2215.9 1316.8Z" fill="#000096"/>
<path d="M2227.6 1310.2L2239.3 1330.5L2215.9 1330.5Z" fill="#000096"/>
<path d="M2227.6 1330.7L2239.3 1351.0L2215.9 1351.0Z" fill="#000096"/>
<path d="M2227.6 1345.0L2239.3 1365.3L2215.9 1365.3Z" fill="#000096"/>
<path d="M2227.6 1378.7L2239.3 1399.0L2215.9 1399.0Z" fill="#000096"/>
<path d="M2275.4 1202.3L2287.1 1222.6L2263.7 1222.6Z" fill="#00BFFF"/>
<path d="M2275.4 1296.5L2287.1 1316.8L2263.7 1316.8Z" fill="#00BFFF"/>
<path d="M2275.4 1326.0L2287.1 1346.3L2263.7 1346.3Z" fill="#00BFFF"/>
<path d="M2275.4 1349.5L2287.1 1369.8L2263.7 1369.8Z" fill="#00BFFF"/>
<path d="M2275.4 1372.5L2287.1 1392.8L2263.7 1392.8Z" fill="#00BFFF"/>
<path d="M1838.7 1208.2L1850.4 1228.5L1827.0 1228.5Z" fill="#EE0000"/>
<path d="M1838.7 1234.8L1850.4 1255.1L1827.0 1255.1Z" fill="#EE0000"/>
<path d="M1838.7 1278.0L1850.4 1298.3L1827.0 1298.3Z" fill="#EE0000"/>
<path d="M1838.7 1281.5L1850.4 1301.8L1827.0 1301.8Z" fill="#EE0000"/>
<path d="M1838.7 1296.1L1850.4 1316.4L1827.0 1316.4Z" fill="#EE0000"/>
<path d="M1838.7 1336.9L1850.4 1357.2L1827.0 1357.2Z" fill="#EE0000"/>
<path d="M1838.7 1375.0L1850.4 1395.3L1827.0 1395.3Z" fill="#EE0000"/>
<path d="M1838.7 1385.2L1850.4 1405.5L1827.0 1405.5Z" fill="#EE0000"/>
<path d="M2181.6 1289.5L2193.3 1309.8L2169.9 1309.8Z" fill="#009100"/>
<path d="M2181.6 1301.5L2193.3 1321.8L2169.9 1321.8Z" fill="#009100"/>
<path d="M2181.6 1314.5L2193.3 1334.8L2169.9 1334.8Z" fill="#009100"/>
<path d="M2181.6 1326.5L2193.3 1346.8L2169.9 1346.8Z" fill="#009100"/>
<path d="M2181.6 1336.5L2193.3 1356.8L2169.9 1356.8Z" fill="#009100"/>
<path d="M2181.6 1346.5L2193.3 1366.8L2169.9 1366.8Z" fill="#009100"/>
<path d="M2181.6 1355.5L2193.3 1375.8L2169.9 1375.8Z" fill="#009100"/>
<line x1="2169.2" y1="1342.7" x2="2462.3" y2="1244.0" stroke="#000" stroke-width="4.8" stroke-linecap="round"/>
<line x1="1838.7" y1="1315.0" x2="2275.4" y2="1326.3" stroke="#A5A5A5" stroke-width="4.8" stroke-linecap="round"/>
<rect x="1813.3" y="788.8" width="673.8" height="633.5" fill="none" stroke="#000" stroke-width="4.2"/>
<line x1="1849.7" y1="1422.3" x2="1849.7" y2="1448.3" stroke="#000" stroke-width="4.2"/>
<line x1="2014.7" y1="1422.3" x2="2014.7" y2="1448.3" stroke="#000" stroke-width="4.2"/>
<line x1="2179.8" y1="1422.3" x2="2179.8" y2="1448.3" stroke="#000" stroke-width="4.2"/>
<line x1="2344.9" y1="1422.3" x2="2344.9" y2="1448.3" stroke="#000" stroke-width="4.2"/>
<text x="1849.7" y="1508.7" text-anchor="middle" class="t">3e–04</text>
<text x="2014.7" y="1508.7" text-anchor="middle" class="t">4e–04</text>
<text x="2179.8" y="1508.7" text-anchor="middle" class="t">5e–04</text>
<text x="2344.9" y="1508.7" text-anchor="middle" class="t">6e–04</text>
<line x1="1787.3" y1="835.6" x2="1813.3" y2="835.6" stroke="#000" stroke-width="4.2"/>
<line x1="1787.3" y1="942.0" x2="1813.3" y2="942.0" stroke="#000" stroke-width="4.2"/>
<line x1="1787.3" y1="1046.6" x2="1813.3" y2="1046.6" stroke="#000" stroke-width="4.2"/>
<line x1="1787.3" y1="1152.1" x2="1813.3" y2="1152.1" stroke="#000" stroke-width="4.2"/>
<line x1="1787.3" y1="1256.7" x2="1813.3" y2="1256.7" stroke="#000" stroke-width="4.2"/>
<line x1="1787.3" y1="1361.7" x2="1813.3" y2="1361.7" stroke="#000" stroke-width="4.2"/>
<text transform="translate(1754.5,942.0) rotate(-90)" text-anchor="middle" class="t">0.00025</text>
<text transform="translate(1754.5,1152.1) rotate(-90)" text-anchor="middle" class="t">0.00015</text>
<text transform="translate(1754.5,1361.7) rotate(-90)" text-anchor="middle" class="t">0.00005</text>
<text x="1316.3" y="1567" text-anchor="middle" class="ttl">Metal concentration in filtered seawater samples (µmol/L)</text>
<text transform="translate(47,710.7) rotate(-90)" text-anchor="middle" class="ttl">Metal concentration (mmol/g) in oyster tissue</text>
</svg></body></html>
